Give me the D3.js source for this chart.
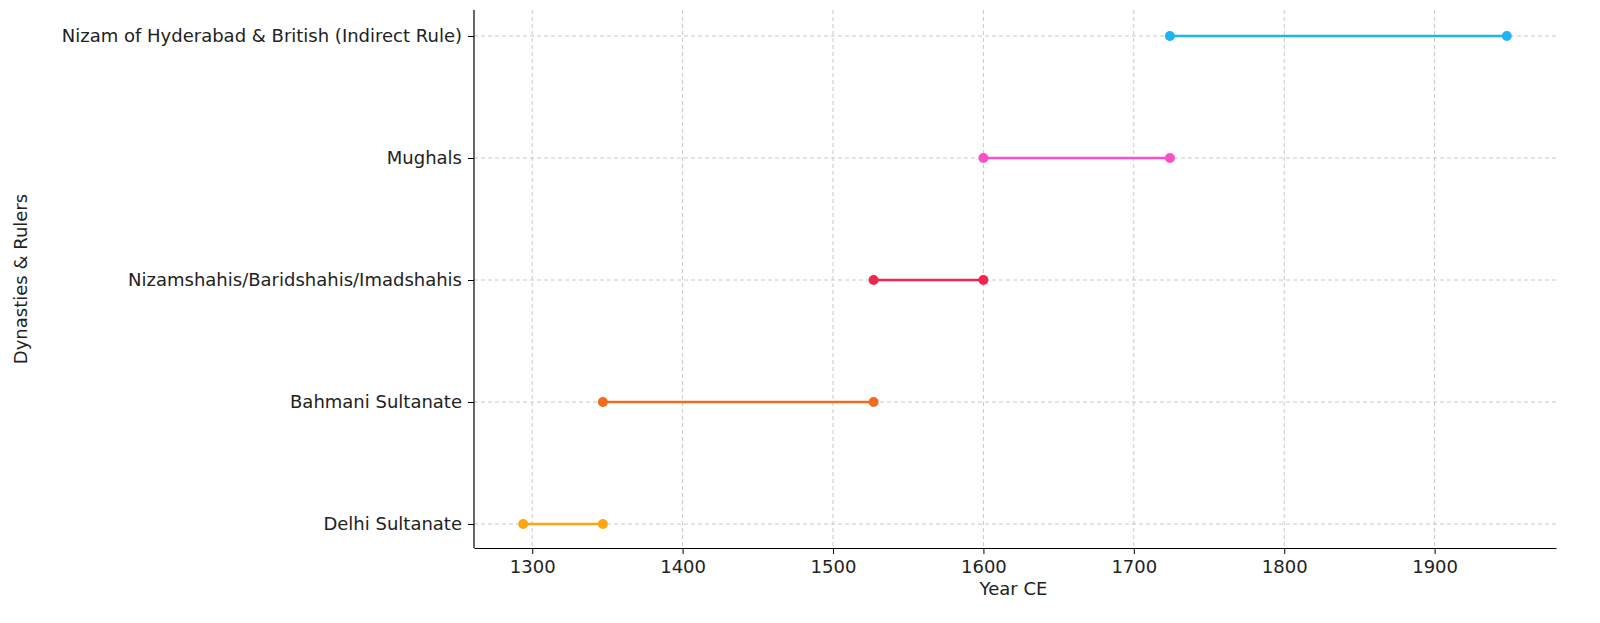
<!DOCTYPE html>
<html><head><meta charset="utf-8">
<script src="https://cdn.jsdelivr.net/npm/d3@7"></script>
<style>
body{margin:0;background:#fff;font-family:"DejaVu Sans",sans-serif;}
.grid line{stroke:#c8c8c8;stroke-dasharray:4,3;stroke-width:1;}
.axis text{font-size:18px;fill:#222;font-family:"DejaVu Sans",sans-serif;}
.axis path,.axis line{stroke:#000;}
</style></head><body>
<div id="chart"></div>
<script>
var dynasties = ["Delhi Sultanate", "Bahmani Sultanate", "Nizamshahis/Baridshahis/Imadshahis", "Mughals", "Nizam of Hyderabad & British (Indirect Rule)"];
var starts = [1294, 1347, 1527, 1600, 1724];
var ends = [1347, 1527, 1600, 1724, 1948];
var colors = ["#FFA50F", "#F26B1D", "#F0264E", "#FF4FC8", "#1EB4F0"];
var xTicks = [1300, 1400, 1500, 1600, 1700, 1800, 1900];

var W = 1600, H = 623;
var m = {left: 474, right: 44, top: 10, bottom: 75};
var svg = d3.select("#chart").append("svg").attr("width", W).attr("height", H);

var span = 1948 - 1294;
var x = d3.scaleLinear().domain([1294 - span * 0.05, 1948 + span * 0.05]).range([m.left, W - m.right]);
var y = d3.scalePoint().domain(dynasties).range([H - m.bottom - 24, m.top + 26]);

svg.append("g").attr("class", "grid")
    .selectAll("line").data(xTicks).enter().append("line")
    .attr("x1", function (d) { return x(d); }).attr("x2", function (d) { return x(d); })
    .attr("y1", m.top).attr("y2", H - m.bottom);
svg.append("g").attr("class", "grid")
    .selectAll("line").data(dynasties).enter().append("line")
    .attr("x1", m.left).attr("x2", W - m.right)
    .attr("y1", function (d) { return y(d); }).attr("y2", function (d) { return y(d); });

var rows = svg.selectAll("g.row").data(dynasties).enter().append("g");
rows.append("line")
    .attr("x1", function (d, i) { return x(starts[i]); })
    .attr("x2", function (d, i) { return x(ends[i]); })
    .attr("y1", function (d) { return y(d); }).attr("y2", function (d) { return y(d); })
    .attr("stroke", function (d, i) { return colors[i]; }).attr("stroke-width", 2.5);
rows.append("circle").attr("r", 5)
    .attr("cx", function (d, i) { return x(starts[i]); }).attr("cy", function (d) { return y(d); })
    .attr("fill", function (d, i) { return colors[i]; });
rows.append("circle").attr("r", 5)
    .attr("cx", function (d, i) { return x(ends[i]); }).attr("cy", function (d) { return y(d); })
    .attr("fill", function (d, i) { return colors[i]; });

svg.append("g").attr("class", "axis")
    .attr("transform", "translate(0," + (H - m.bottom) + ")")
    .call(d3.axisBottom(x).tickValues(xTicks).tickFormat(d3.format("d")).tickSize(6).tickPadding(6).tickSizeOuter(0));
svg.append("g").attr("class", "axis")
    .attr("transform", "translate(" + m.left + ",0)")
    .call(d3.axisLeft(y).tickSize(6).tickPadding(6).tickSizeOuter(0))
    .select(".domain").attr("d", "M0," + m.top + "V" + (H - m.bottom));
svg.selectAll(".axis .domain").attr("stroke-width", 1.2);

svg.append("text").attr("x", x(1620)).attr("y", 595).attr("text-anchor", "middle")
    .attr("font-size", 18).attr("fill", "#222").text("Year CE");
svg.append("text").attr("transform", "translate(27," + ((m.top + H - m.bottom) / 2) + ") rotate(-90)")
    .attr("text-anchor", "middle").attr("font-size", 18).attr("fill", "#222").text("Dynasties & Rulers");
</script></body></html>
